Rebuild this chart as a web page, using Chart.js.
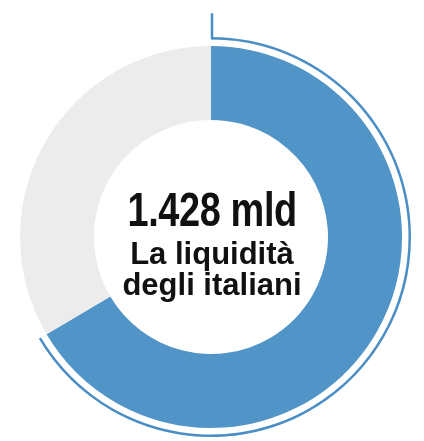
<!DOCTYPE html>
<html lang="it">
<head>
    <meta charset="UTF-8">
    <title>La liquidità degli italiani</title>
    <script src="https://cdn.jsdelivr.net/npm/chart.js@4.4.0/dist/chart.umd.min.js"></script>
    <style>
        body {
            margin: 0;
            padding: 0;
            background-color: #fff;
        }

        .wrap {
            position: relative;
            width: 424px;
            height: 441px;
            overflow: hidden;
        }

        .label {
            position: absolute;
            left: 0;
            width: 424px;
            text-align: center;
            color: #111;
            font-weight: bold;
            white-space: nowrap;
            font-family: 'Liberation Sans', Arial, sans-serif;
        }

        .big {
            top: 186px;
            font-size: 48px;
            line-height: 48px;
        }

        .big span {
            display: inline-block;
            transform: scaleX(0.79);
            letter-spacing: -0.5px;
        }

        .small {
            font-size: 31px;
            line-height: 31px;
        }
    </style>
</head>
<body>

    <div class="wrap">
        <canvas id="liquidChart" width="424" height="441"></canvas>
        <div class="label big"><span>1.428 mld</span></div>
        <div class="label small" style="top: 238px;">La liquidità</div>
        <div class="label small" style="top: 269px;">degli italiani</div>
    </div>

    <script>
        // quota della liquidità sul totale (in %)
        const categories = ['Liquidità', 'Resto'];
        const shares = [66.5, 33.5];

        const blue = '#5094c8';
        const lineBlue = '#4a8ec5';
        const grey = '#ececec';

        // linetta verticale sopra l'arco esterno
        const leaderLine = {
            id: 'leaderLine',
            afterDatasetsDraw(chart) {
                const arc = chart.getDatasetMeta(0).data[0];
                if (!arc) return;
                const ctx = chart.ctx;
                const r = (arc.outerRadius + arc.innerRadius) / 2;
                ctx.save();
                ctx.strokeStyle = lineBlue;
                ctx.lineWidth = 2.5;
                ctx.beginPath();
                ctx.moveTo(arc.x + 1, arc.y - r + 1);
                ctx.lineTo(arc.x + 1, arc.y - r - 25);
                ctx.stroke();
                ctx.restore();
            }
        };

        const config = {
            type: 'doughnut',
            data: {
                labels: categories,
                datasets: [
                    {   // arco sottile esterno
                        data: shares,
                        backgroundColor: [lineBlue, 'rgba(0,0,0,0)'],
                        borderWidth: 0,
                        weight: 2.5
                    },
                    {   // spazio bianco
                        data: shares,
                        backgroundColor: ['rgba(0,0,0,0)', 'rgba(0,0,0,0)'],
                        borderWidth: 0,
                        weight: 6.5
                    },
                    {
                        data: shares,
                        backgroundColor: [blue, grey],
                        borderWidth: 0,
                        weight: 74
                    }
                ]
            },
            options: {
                responsive: false,
                animation: false,
                events: [],
                cutout: '58.5%',
                layout: {
                    padding: { left: 11, right: 13, top: 37, bottom: 4 }
                },
                plugins: {
                    legend: { display: false },
                    tooltip: { enabled: false }
                }
            },
            plugins: [leaderLine]
        };

        const ctx = document.getElementById('liquidChart').getContext('2d');
        const liquidChart = new Chart(ctx, config);
    </script>

</body>
</html>
